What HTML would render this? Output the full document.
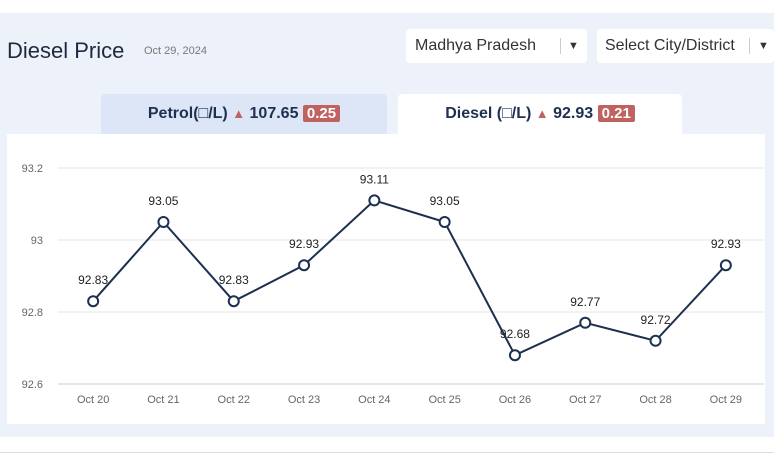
<!DOCTYPE html>
<html><head><meta charset="utf-8"><style>
body{margin:0;width:774px;height:465px;background:#fff;font-family:"Liberation Sans",sans-serif;position:relative;overflow:hidden}
.abs{position:absolute}
#panel{left:0;top:13px;width:774px;height:424px;background:#edf2fa}
.dd{top:29px;height:34px;background:#fff;border-radius:4px;font-size:16px;color:#333;line-height:34px}
.tab{top:94px;height:40px;line-height:40px;font-size:16px;font-weight:bold;color:#1e3050;text-align:center;border-radius:4px 4px 0 0}
.badge{background:#c0625f;color:#fff;padding:0 4px;border-radius:2px;font-size:15px}
.tri{color:#c0625f;font-size:13px}
</style></head><body>
<div id="panel" class="abs"></div>
<div class="abs" style="left:7px;top:38px;font-size:22px;color:#1e2a3e">Diesel Price</div>
<div class="abs" style="left:144px;top:45px;font-size:11px;color:#777">Oct 29, 2024</div>
<div class="abs dd" style="left:406px;width:181px"><span style="margin-left:9px">Madhya Pradesh</span><span style="position:absolute;left:154px;top:9px;height:16px;border-left:1px solid #ccc"></span><span style="position:absolute;left:162px;font-size:11px">▼</span></div>
<div class="abs dd" style="left:597px;width:177px"><span style="margin-left:8px">Select City/District</span><span style="position:absolute;left:152px;top:9px;height:16px;border-left:1px solid #ccc"></span><span style="position:absolute;left:161px;font-size:11px">▼</span></div>
<div class="abs tab" style="left:101px;width:286px;background:#dce6f7">Petrol(□/L) <span class="tri">▲</span> 107.65 <span class="badge">0.25</span></div>
<div class="abs tab" style="left:398px;width:284px;background:#fff">Diesel (□/L) <span class="tri">▲</span> 92.93 <span class="badge">0.21</span></div>
<div class="abs" style="left:7px;top:134px;width:758px;height:290px;background:#fff"></div>
<div class="abs" style="left:0;top:452px;width:774px;border-top:1px solid #ddd"></div>
<svg class="abs" style="left:0;top:0" width="774" height="465">
<g id="grid"></g><g id="xl"></g><path id="line" fill="none" stroke="#1e3050" stroke-width="2"/><g id="pts"></g>
</svg>
<script>
const categories=["Oct 20","Oct 21","Oct 22","Oct 23","Oct 24","Oct 25","Oct 26","Oct 27","Oct 28","Oct 29"];
const values=[92.83,93.05,92.83,92.93,93.11,93.05,92.68,92.77,92.72,92.93];
const yTicks=[92.6,92.8,93,93.2];
const X0=58,X1=761,Y0=384,Y1=168,YMIN=92.6,YMAX=93.2;
const bw=(X1-X0)/categories.length;
const x=i=>X0+bw*(i+0.5);
const y=v=>Y0-(v-YMIN)/(YMAX-YMIN)*(Y0-Y1);
const NS="http://www.w3.org/2000/svg";
function mk(t,a,p){const e=document.createElementNS(NS,t);for(const k in a)e.setAttribute(k,a[k]);p.appendChild(e);return e;}
const g=document.getElementById('grid');
yTicks.forEach(t=>{
 const l=mk('line',{x1:X0,x2:764,y1:y(t),y2:y(t),stroke:t===YMIN?'#ccc':'#e6e6e6'},g);
 
 
 const tx=mk('text',{x:43,y:y(t)+4,'text-anchor':'end','font-size':11,fill:'#666','font-family':'Liberation Sans'},g);
 tx.textContent=String(t);
 
 
});
const xl=document.getElementById('xl');
categories.forEach((c,i)=>{
 const t=mk('text',{x:x(i),y:403,'text-anchor':'middle','font-size':11,fill:'#666','font-family':'Liberation Sans'},xl);
 t.textContent=c;
 
 
});
document.getElementById('line').setAttribute('d',values.map((v,i)=>(i?'L':'M')+x(i)+','+y(v)).join(''));
document.getElementById('line');
const pts=document.getElementById('pts');
values.forEach((v,i)=>{
 const c=mk('circle',{cx:x(i),cy:y(v),r:5,fill:'#fff',stroke:'#1e3050','stroke-width':2},pts);
 
 
 const t=mk('text',{x:x(i),y:y(v)-17,'text-anchor':'middle','font-size':12,fill:'#222','font-family':'Liberation Sans'},pts);
 t.textContent=v.toFixed(2);
 
 
});
</script>
</body></html>
